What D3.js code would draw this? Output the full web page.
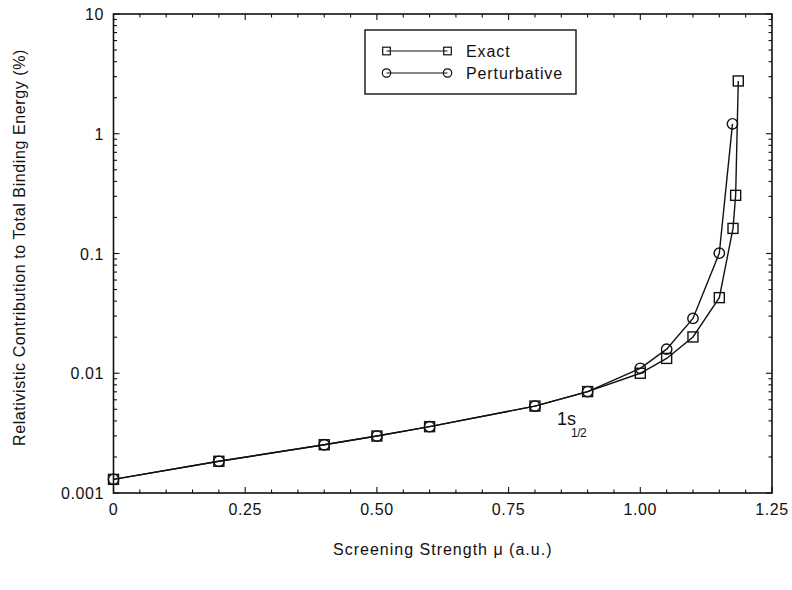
<!DOCTYPE html>
<html>
<head>
<meta charset="utf-8">
<script src="https://cdn.jsdelivr.net/npm/d3@7"></script>
<style>
  html, body { margin: 0; padding: 0; background: #fff; }
  svg text { font-family: "Liberation Sans", Arial, Helvetica, sans-serif; fill: #111; }
</style>
</head>
<body>
<svg id="chart" width="792" height="590"></svg>
<script>
// Screening strength (a.u.) and relativistic contribution (%) for the 1s1/2 level
const exactMu   = [0, 0.2, 0.4, 0.5, 0.6, 0.8, 0.9, 1.0, 1.05, 1.1, 1.15, 1.176, 1.181, 1.186];
const exactVal  = [0.0013, 0.00184, 0.00253, 0.00299, 0.00358, 0.00532, 0.00703, 0.0100, 0.0133, 0.0201, 0.0428, 0.162, 0.306, 2.76];
const pertMu    = [0, 0.2, 0.4, 0.5, 0.6, 0.8, 0.9, 1.0, 1.05, 1.1, 1.15, 1.175];
const pertVal   = [0.0013, 0.00184, 0.00253, 0.00299, 0.00358, 0.00532, 0.00703, 0.0110, 0.0159, 0.0287, 0.1007, 1.21];
const xTickVals   = [0, 0.25, 0.5, 0.75, 1.0, 1.25];
const xTickLabels = ["0", "0.25", "0.50", "0.75", "1.00", "1.25"];
const yTickVals   = [0.001, 0.01, 0.1, 1, 10];
const yTickLabels = ["0.001", "0.01", "0.1", "1", "10"];
const seriesNames = ["Exact", "Perturbative"];

const svg = d3.select("#chart");
const L = 113.5, R = 772, T = 14, B = 493;

const x = d3.scaleLinear().domain([0, 1.25]).range([L, R]);
const y = d3.scaleLog().domain([0.001, 10]).range([B, T]);

const minorY = [];
for (let e = -3; e < 1; e++) for (let k = 2; k <= 9; k++) minorY.push(k * Math.pow(10, e));
const minorX = d3.range(0, 26).map(i => i * 0.05).filter(v => v <= 1.25 + 1e-9);

const ls = "0.6px";

// frame ticks (inward on all four sides)
const tk = svg.append("g").attr("stroke", "#111").attr("stroke-width", 1.1);
minorX.forEach(v => {
  const major = xTickVals.some(t => Math.abs(t - v) < 1e-9);
  const len = major ? 6 : 3.5;
  tk.append("line").attr("x1", x(v)).attr("x2", x(v)).attr("y1", B).attr("y2", B - len);
  tk.append("line").attr("x1", x(v)).attr("x2", x(v)).attr("y1", T).attr("y2", T + len);
});
minorY.concat(yTickVals).forEach(v => {
  const major = yTickVals.includes(v);
  const len = major ? 6 : 3.5;
  tk.append("line").attr("x1", L).attr("x2", L + len).attr("y1", y(v)).attr("y2", y(v));
  tk.append("line").attr("x1", R).attr("x2", R - len).attr("y1", y(v)).attr("y2", y(v));
});

// frame
svg.append("rect").attr("x", L).attr("y", T).attr("width", R - L).attr("height", B - T)
  .attr("fill", "none").attr("stroke", "#111").attr("stroke-width", 1.6);

// tick labels
svg.append("g").selectAll("text").data(xTickVals).join("text")
  .attr("x", d => x(d)).attr("y", 515).attr("text-anchor", "middle")
  .attr("font-size", 16).style("letter-spacing", ls)
  .text((d, i) => xTickLabels[i]);
svg.append("g").selectAll("text").data(yTickVals).join("text")
  .attr("x", 104).attr("y", d => y(d) + 6).attr("text-anchor", "end")
  .attr("font-size", 16).style("letter-spacing", ls)
  .text((d, i) => yTickLabels[i]);

// axis titles
svg.append("text").attr("x", (L + R) / 2).attr("y", 555).attr("text-anchor", "middle")
  .attr("font-size", 16).style("letter-spacing", "1px")
  .text("Screening Strength \u03bc (a.u.)");
svg.append("text").attr("transform", `translate(25,${(T + B) / 2 - 6}) rotate(-90)`)
  .attr("text-anchor", "middle").attr("font-size", 16).style("letter-spacing", "0.6px")
  .text("Relativistic Contribution to Total Binding Energy (%)");

// curves
const line = d3.line().x(d => x(d[0])).y(d => y(d[1]));
const exact = exactMu.map((m, i) => [m, exactVal[i]]);
const pert = pertMu.map((m, i) => [m, pertVal[i]]);
[exact, pert].forEach(s => svg.append("path").datum(s).attr("d", line)
  .attr("fill", "none").attr("stroke", "#111").attr("stroke-width", 1.4));

// markers
const sq = 10, cr = 5.2;
svg.append("g").selectAll("circle").data(pert).join("circle")
  .attr("cx", d => x(d[0])).attr("cy", d => y(d[1])).attr("r", cr)
  .attr("fill", "none").attr("stroke", "#111").attr("stroke-width", 1.4);
svg.append("g").selectAll("rect").data(exact).join("rect")
  .attr("x", d => x(d[0]) - sq / 2).attr("y", d => y(d[1]) - sq / 2)
  .attr("width", sq).attr("height", sq)
  .attr("fill", "none").attr("stroke", "#111").attr("stroke-width", 1.4);

// level label 1s1/2
const lab = svg.append("text").attr("x", 557).attr("y", 425).attr("font-size", 18);
lab.append("tspan").text("1s");
lab.append("tspan").attr("x", 571).attr("y", 437).attr("font-size", 12).style("letter-spacing", "-0.5px").text("1/2");

// legend
const lg = svg.append("g");
lg.append("rect").attr("x", 365).attr("y", 30).attr("width", 211).attr("height", 64)
  .attr("fill", "#fff").attr("stroke", "#111").attr("stroke-width", 1.4);
seriesNames.forEach((name, i) => {
  const cy = 51 + i * 22;
  lg.append("line").attr("x1", 386.5).attr("x2", 447.5).attr("y1", cy).attr("y2", cy)
    .attr("stroke", "#111").attr("stroke-width", 1.2);
  [386.5, 447.5].forEach(cx => {
    if (i === 0) lg.append("rect").attr("x", cx - 3.8).attr("y", cy - 3.8).attr("width", 7.6).attr("height", 7.6)
      .attr("fill", "none").attr("stroke", "#111").attr("stroke-width", 1.2);
    else lg.append("circle").attr("cx", cx).attr("cy", cy).attr("r", 4.2)
      .attr("fill", "none").attr("stroke", "#111").attr("stroke-width", 1.2);
  });
  lg.append("text").attr("x", 466).attr("y", cy + 6).attr("font-size", 16)
    .style("letter-spacing", "0.9px").text(name);
});
</script>
</body>
</html>
